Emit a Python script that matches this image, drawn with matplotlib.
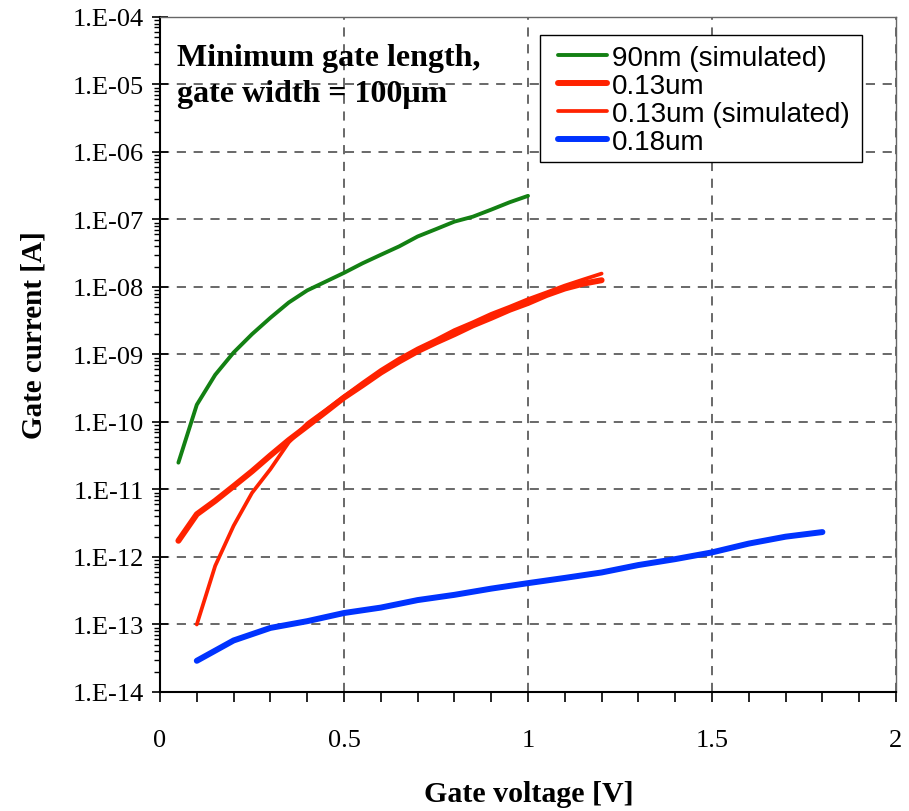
import numpy as np
import matplotlib
matplotlib.use('Agg')
import matplotlib.pyplot as plt
from matplotlib.patches import Rectangle
from matplotlib.ticker import MultipleLocator, LogLocator, FuncFormatter, NullFormatter

# gate voltage [V]
v_90nm = [0.05, 0.1, 0.15, 0.2, 0.25, 0.3, 0.35, 0.4, 0.45, 0.5,
          0.55, 0.6, 0.65, 0.7, 0.75, 0.8, 0.85, 0.9, 0.95, 1.0]
v_013 = [0.05, 0.1, 0.15, 0.2, 0.25, 0.3, 0.35, 0.4, 0.45, 0.5, 0.55, 0.6,
         0.65, 0.7, 0.75, 0.8, 0.85, 0.9, 0.95, 1.0, 1.05, 1.1, 1.15, 1.2]
v_013_sim = [0.1, 0.15, 0.2, 0.25, 0.3, 0.35, 0.4, 0.45, 0.5, 0.55, 0.6,
             0.65, 0.7, 0.75, 0.8, 0.85, 0.9, 0.95, 1.0, 1.05, 1.1, 1.15, 1.2]
v_018 = [0.1, 0.2, 0.3, 0.4, 0.5, 0.6, 0.7, 0.8, 0.9, 1.0,
         1.1, 1.2, 1.3, 1.4, 1.5, 1.6, 1.7, 1.8]

# gate current [A]
i_90nm = [2.5e-11, 1.8e-10, 5.0e-10, 1.07e-9, 2.0e-9, 3.5e-9, 5.9e-9, 8.9e-9, 1.2e-8, 1.62e-8,
          2.24e-8, 3.0e-8, 4.0e-8, 5.6e-8, 7.2e-8, 9.3e-8, 1.1e-7, 1.4e-7, 1.8e-7, 2.24e-7]
i_013 = [1.74e-12, 4.3e-12, 6.8e-12, 1.12e-11, 1.86e-11, 3.2e-11, 5.4e-11, 8.7e-11,
         1.41e-10, 2.3e-10, 3.5e-10, 5.4e-10, 7.9e-10, 1.12e-9, 1.51e-9, 2.0e-9,
         2.7e-9, 3.5e-9, 4.6e-9, 5.8e-9, 7.6e-9, 9.5e-9, 1.12e-8, 1.26e-8]
i_013_sim = [1.0e-13, 7.4e-13, 2.9e-12, 8.9e-12, 2.0e-11, 5.0e-11, 9.5e-11, 1.5e-10,
             2.4e-10, 3.8e-10, 5.9e-10, 8.7e-10, 1.23e-9, 1.66e-9, 2.3e-9, 3.0e-9,
             4.0e-9, 5.1e-9, 6.6e-9, 8.3e-9, 1.05e-8, 1.29e-8, 1.58e-8]
i_018 = [2.9e-14, 5.8e-14, 8.9e-14, 1.12e-13, 1.48e-13, 1.78e-13, 2.3e-13, 2.75e-13, 3.4e-13,
         4.1e-13, 4.9e-13, 5.9e-13, 7.6e-13, 9.3e-13, 1.17e-12, 1.58e-12, 2.0e-12, 2.34e-12]

serif = 'Liberation Serif'
sans = 'Liberation Sans'

fig = plt.figure(figsize=(9.09, 8.12), dpi=100)
ax = fig.add_axes([160 / 909, 1 - 693 / 812, 736 / 909, 675 / 812])

ax.plot(v_90nm, i_90nm, color='#138013', lw=2.8, label='90nm (simulated)', solid_capstyle='round')
ax.plot(v_013, i_013, color='#ff2200', lw=4.3, label='0.13um', solid_capstyle='round')
ax.plot(v_013_sim, i_013_sim, color='#ff2200', lw=2.7, label='0.13um (simulated)', solid_capstyle='round')
ax.plot(v_018, i_018, color='#0033ff', lw=4.3, label='0.18um', solid_capstyle='round')

ax.set_yscale('log')
ax.set_xlim(0, 2)
ax.set_ylim(1e-14, 1e-4)

ax.xaxis.set_major_locator(MultipleLocator(0.5))
ax.xaxis.set_minor_locator(MultipleLocator(0.1))
ax.xaxis.set_major_formatter(FuncFormatter(lambda v, p: '%g' % v))
ax.yaxis.set_major_locator(LogLocator(base=10, numticks=20))
ax.yaxis.set_minor_locator(LogLocator(base=10, subs=np.arange(2, 10), numticks=20))
ax.yaxis.set_minor_formatter(NullFormatter())
ax.yaxis.set_major_formatter(FuncFormatter(lambda v, p: '1.E%03d' % int(round(np.log10(v)))))

ax.tick_params(axis='x', which='both', direction='out', length=7, width=1.2, pad=20,
               labelsize=19, top=False)
ax.tick_params(axis='y', which='major', direction='inout', length=11, width=1.2, pad=6,
               labelsize=19, right=False)
ax.tick_params(axis='y', which='minor', direction='out', length=4, width=1.0, right=False)
for lbl in ax.get_xticklabels() + ax.get_yticklabels():
    lbl.set_fontfamily(serif)

ax.grid(True, which='major', color='#404040', linestyle=(0, (6, 5)), linewidth=1.1)
ax.set_axisbelow(True)

ax.spines['left'].set_linewidth(1.5)
ax.spines['bottom'].set_linewidth(1.5)
ax.spines['top'].set_color('#666666')
ax.spines['right'].set_color('#666666')
ax.spines['top'].set_linewidth(1.0)
ax.spines['right'].set_linewidth(1.0)

# legend box drawn separately (wider side padding than top/bottom)
ax.add_patch(Rectangle(((540 - 160) / 736, (693 - 163) / 675), 322 / 736, 127 / 675,
                       transform=ax.transAxes, facecolor='white', edgecolor='black',
                       linewidth=1.0, zorder=4))
leg = ax.legend(loc='upper left', bbox_to_anchor=((558 - 160) / 736, (693 - 46) / 675),
                prop={'family': sans, 'size': 20}, frameon=False,
                borderpad=0, labelspacing=0.07, handlelength=1.75, handletextpad=0.2,
                borderaxespad=0)
leg.set_zorder(5)

fig.text(177 / 909, 1 - 44 / 812, 'Minimum gate length,\ngate width = 100μm',
         family=serif, fontweight='bold', fontsize=23, va='top', ha='left', linespacing=1.32)

fig.text(34 / 909, 1 - 335 / 812, 'Gate current [A]', family=serif, fontweight='bold',
         fontsize=21, rotation=90, va='center', ha='center')
fig.text(529 / 909, 1 - 795 / 812, 'Gate voltage [V]', family=serif, fontweight='bold',
         fontsize=21.5, va='center', ha='center')

fig.savefig('out.png', dpi=100)
